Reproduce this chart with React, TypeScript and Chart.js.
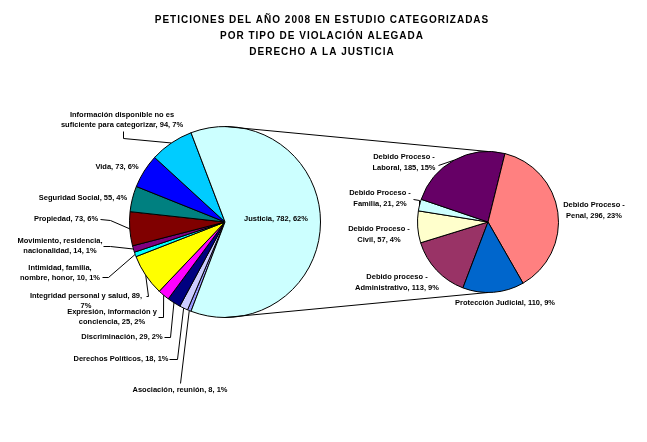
import React, { useEffect, useRef } from "react";
import { Chart, registerables } from "chart.js";

Chart.register(...registerables);

// ---------- DATA ----------
const titleLines = [
  "PETICIONES DEL AÑO 2008 EN ESTUDIO CATEGORIZADAS",
  "POR TIPO DE VIOLACIÓN ALEGADA",
  "DERECHO A LA JUSTICIA",
];

const mainCategories = [
  "Asociación, reunión",
  "Derechos Políticos",
  "Discriminación",
  "Expresión, información y conciencia",
  "Integridad personal y salud",
  "Intimidad, familia, nombre, honor",
  "Movimiento, residencia, nacionalidad",
  "Propiedad",
  "Seguridad Social",
  "Vida",
  "Información disponible no es suficiente para categorizar",
  "Justicia",
];
const mainValues = [8, 18, 29, 25, 89, 10, 14, 73, 55, 73, 94, 782];

const secCategories = [
  "Debido proceso - Administrativo",
  "Debido Proceso - Civil",
  "Debido Proceso - Familia",
  "Debido Proceso - Laboral",
  "Debido Proceso - Penal",
  "Protección Judicial",
];
const secValues = [113, 57, 21, 185, 296, 110];

// label texts ({v} = value, {p} = percent of total)
const mainLabelText = [
  ["Asociación, reunión, {v}, {p}%"],
  ["Derechos Políticos, {v}, {p}%"],
  ["Discriminación, {v}, {p}%"],
  ["Expresión, información y", "conciencia, {v}, {p}%"],
  ["Integridad personal y salud, {v},", "{p}%"],
  ["Intimidad, familia,", "nombre, honor, {v}, {p}%"],
  ["Movimiento, residencia,", "nacionalidad, {v}, {p}%"],
  ["Propiedad, {v}, {p}%"],
  ["Seguridad Social, {v}, {p}%"],
  ["Vida, {v}, {p}%"],
  ["Información disponible no es", "suficiente para categorizar, {v}, {p}%"],
  ["Justicia, {v}, {p}%"],
];
const secLabelText = [
  ["Debido proceso -", "Administrativo, {v}, {p}%"],
  ["Debido Proceso -", "Civil, {v}, {p}%"],
  ["Debido Proceso -", "Familia, {v}, {p}%"],
  ["Debido Proceso -", "Laboral, {v}, {p}%"],
  ["Debido Proceso -", "Penal, {v}, {p}%"],
  ["Protección Judicial, {v}, {p}%"],
];

// ---------- STYLE / LAYOUT ----------
const mainColors = [
  "#9999FF", "#CCCCFF", "#000080", "#FF00FF", "#FFFF00", "#00FFFF",
  "#800080", "#800000", "#008080", "#0000FF", "#00CCFF", "#CCFFFF",
];
const secColors = ["#993366", "#FFFFCC", "#CCFFFF", "#660066", "#FF8080", "#0066CC"];

const mainLabelPos: [number, number][] = [
  [180, 390], [121, 359], [122, 337], [112, 312], [86, 296], [60, 268],
  [60, 241], [66, 219], [83, 198], [117, 167], [122, 115], [276, 219],
];
const mainLeaders: ([number, number][] | null)[] = [
  [[180, 383]],
  [[169, 359], [177, 359]],
  [[164, 337], [170, 337]],
  [[158, 317], [163, 317]],
  [[146, 296], [148, 296]],
  [[102, 277], [108, 277]],
  [[103, 246], [110, 246]],
  [[100, 219], [110, 220]],
  null,
  null,
  [[123, 131], [123, 138]],
  null,
];
const secLabelPos: [number, number][] = [
  [397, 277], [379, 229], [380, 193], [404, 157], [594, 205], [505, 303],
];
const secLeaders: ([number, number][] | null)[] = [
  null, null, [[413, 199], [419, 200]], [[438, 165]], null, null,
];

const W = 647;
const H = 442;
const LABEL_FONT = "bold 7.5px 'Liberation Sans', Arial, sans-serif";
const TITLE_FONT = "bold 10px 'Liberation Sans', Arial, sans-serif";

export default function App() {
  const mainRef = useRef<HTMLCanvasElement>(null);
  const secRef = useRef<HTMLCanvasElement>(null);

  useEffect(() => {
    const grandTotal = mainValues.reduce((a, b) => a + b, 0);
    const pct = (v: number) => Math.round((v / grandTotal) * 100);
    const fill = (s: string, v: number) =>
      s.replace("{v}", String(v)).replace("{p}", String(pct(v)));
    const justShare = mainValues[mainValues.length - 1] / grandTotal;
    const rotation = 90 + justShare * 180;

    const drawLabels = (
      chart: any,
      texts: string[][],
      pos: [number, number][],
      leaders: ([number, number][] | null)[],
      values: number[],
      lineH: number
    ) => {
      const ctx: CanvasRenderingContext2D = chart.ctx;
      const meta = chart.getDatasetMeta(0);
      ctx.save();
      ctx.strokeStyle = "#000";
      ctx.lineWidth = 1;
      leaders.forEach((pts, i) => {
        if (!pts) return;
        const arc: any = meta.data[i];
        const mid = (arc.startAngle + arc.endAngle) / 2;
        const ex = arc.x + Math.cos(mid) * arc.outerRadius;
        const ey = arc.y + Math.sin(mid) * arc.outerRadius;
        ctx.beginPath();
        ctx.moveTo(pts[0][0] + 0.5, pts[0][1] + 0.5);
        for (let k = 1; k < pts.length; k++) ctx.lineTo(pts[k][0] + 0.5, pts[k][1] + 0.5);
        ctx.lineTo(ex, ey);
        ctx.stroke();
      });
      ctx.fillStyle = "#000";
      ctx.font = LABEL_FONT;
      ctx.textAlign = "center";
      ctx.textBaseline = "middle";
      texts.forEach((lines, i) => {
        lines.forEach((ln, j) => {
          ctx.fillText(fill(ln, values[i]), pos[i][0], pos[i][1] + j * lineH);
        });
      });
      ctx.restore();
    };

    const mainChart = new Chart(mainRef.current!, {
      type: "pie",
      data: {
        labels: mainCategories,
        datasets: [
          {
            data: mainValues,
            backgroundColor: mainColors,
            borderColor: "#000",
            borderWidth: 1,
          },
        ],
      },
      options: {
        responsive: false,
        animation: false,
        events: [],
        rotation,
        layout: { padding: { left: 129, top: 126, right: W - 321, bottom: H - 318 } },
        plugins: { legend: { display: false }, tooltip: { enabled: false } },
      },
      plugins: [
        {
          id: "mainDecor",
          beforeDraw(chart: any) {
            const ctx = chart.ctx;
            ctx.save();
            ctx.fillStyle = "#fff";
            ctx.fillRect(0, 0, W, H);
            ctx.restore();
          },
          afterDraw(chart: any) {
            const ctx: CanvasRenderingContext2D = chart.ctx;
            ctx.save();
            ctx.fillStyle = "#000";
            ctx.font = TITLE_FONT;
            (ctx as any).letterSpacing = "1px";
            ctx.textAlign = "center";
            ctx.textBaseline = "middle";
            const ys = [20, 36, 52];
            titleLines.forEach((t, i) => ctx.fillText(t, 322, ys[i]));
            ctx.restore();
            drawLabels(chart, mainLabelText, mainLabelPos, mainLeaders, mainValues, 10);
          },
        },
      ],
    });

    const secChart = new Chart(secRef.current!, {
      type: "pie",
      data: {
        labels: secCategories,
        datasets: [
          {
            data: secValues,
            backgroundColor: secColors,
            borderColor: "#000",
            borderWidth: 1,
          },
        ],
      },
      options: {
        responsive: false,
        animation: false,
        events: [],
        rotation,
        layout: { padding: { left: 417, top: 151, right: W - 559, bottom: H - 293 } },
        plugins: { legend: { display: false }, tooltip: { enabled: false } },
      },
      plugins: [
        {
          id: "secDecor",
          afterDraw(chart: any) {
            const ctx: CanvasRenderingContext2D = chart.ctx;
            const m: any = mainChart.getDatasetMeta(0).data[0];
            const s: any = chart.getDatasetMeta(0).data[0];
            ctx.save();
            ctx.strokeStyle = "#000";
            ctx.lineWidth = 1;
            ctx.beginPath();
            ctx.moveTo(m.x, m.y - m.outerRadius);
            ctx.lineTo(s.x, s.y - s.outerRadius);
            ctx.moveTo(m.x, m.y + m.outerRadius);
            ctx.lineTo(s.x, s.y + s.outerRadius);
            ctx.stroke();
            ctx.restore();
            drawLabels(chart, secLabelText, secLabelPos, secLeaders, secValues, 11);
          },
        },
      ],
    });

    return () => {
      secChart.destroy();
      mainChart.destroy();
    };
  }, []);

  return (
    <div style={{ position: "fixed", left: 0, top: 0, width: W, height: H, background: "#fff" }}>
      <canvas
        ref={mainRef}
        width={W}
        height={H}
        style={{ position: "absolute", left: 0, top: 0, width: W, height: H }}
      />
      <canvas
        ref={secRef}
        width={W}
        height={H}
        style={{ position: "absolute", left: 0, top: 0, width: W, height: H }}
      />
    </div>
  );
}
